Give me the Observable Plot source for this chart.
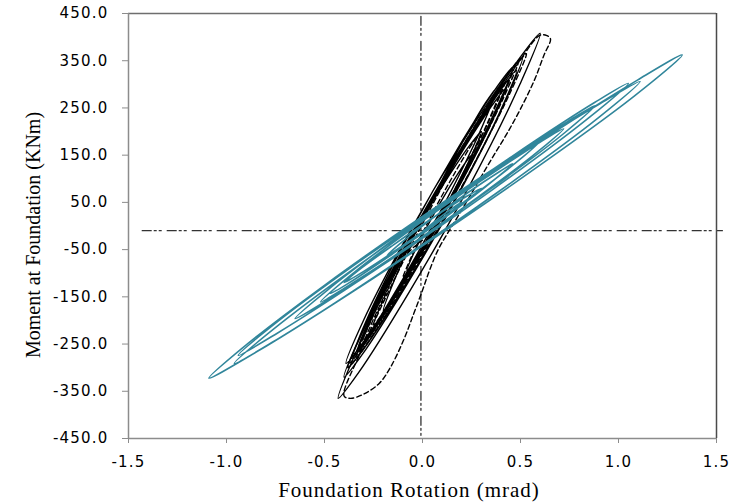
<!DOCTYPE html>
<html><head><meta charset="utf-8">
<script src="https://cdn.jsdelivr.net/npm/d3@7"></script>
<script src="https://cdn.jsdelivr.net/npm/@observablehq/plot@0.6"></script>
<style>
body{margin:0;background:#fff}
#chart{width:741px;height:504px}
g[aria-label="x-axis tick label"] text, g[aria-label="y-axis tick label"] text{letter-spacing:1.2px}
</style></head><body><div id="chart"></div>
<script>
const xTicks = [-1.5, -1.0, -0.5, 0.0, 0.5, 1.0, 1.5];
const yTicks = [-450, -350, -250, -150, -50, 50, 150, 250, 350, 450];
const xTitle = "Foundation Rotation (mrad)";
const yTitle = "Moment at Foundation (KNm)";

// reference dash-dot lines
const refHorizontal = [[-1.43, -10], [1.53, -10]];
const refVertical = [[-0.008, 444], [-0.008, -444]];

// teal series (rotation mrad, moment kNm)
const tealLoops = [
[0,-12],[0.1,22],[0.20,50],
[0.162,36],[0.067,6],[-0.047,-27],[-0.142,-53],[-0.18,-62],
[-0.116,-38],[0.044,14],[0.236,72],[0.396,116],[0.46,132],
[0.367,98],[0.135,24],[-0.145,-57],[-0.377,-121],[-0.47,-143],
[-0.351,-99],[-0.054,-6],[0.304,97],[0.601,178],[0.72,206],
[0.596,160],[0.286,62],[-0.086,-47],[-0.396,-131],[-0.52,-161],
[-0.38,-109],[-0.03,2],[0.39,125],[0.74,221],[0.88,255],
[0.727,198],[0.345,78],[-0.115,-55],[-0.497,-160],[-0.65,-196],
[-0.48,-134],[-0.055,-1],[0.455,147],[0.88,262],[1.05,302],
[0.851,230],[0.354,76],[-0.244,-94],[-0.741,-227],[-0.94,-274],
[-0.735,-201],[-0.2225,-46],[0.3925,126],[0.905,259],[1.11,306],
[0.903,231],[0.3855,72],[-0.2355,-105],[-0.753,-243],[-0.96,-291],
[-0.7315,-209],[-0.16,-34],[0.525,159],[1.0965,309],[1.325,362],
[1.0835,276],[0.48,94],[-0.245,-109],[-0.8485,-267],[-1.09,-322],
[-0.921,-259],[-0.4985,-125],[0.0085,23],[0.431,139],[0.60,180],
[0.50,142],[0.25,62],[-0.05,-27],[-0.30,-96],[-0.40,-120],
[-0.33,-95],[-0.155,-42],[0.055,18],[0.23,64],[0.30,80],
[0.2,47],[0.05,-2],[-0.05,-30]
];

// black solid series
const blackSolid = [
[0,-40],[0.06,8],[0.12,50],
[0.10,30],[0.05,-11],[-0.01,-53],[-0.06,-85],[-0.08,-95],
[-0.047,-60],[0.0355,8],[0.1345,80],[0.217,133],[0.25,150],
[0.205,103],[0.0925,12],[-0.0425,-85],[-0.155,-157],[-0.20,-180],
[-0.142,-113],[0.003,19],[0.177,157],[0.322,261],[0.38,293],
[0.307,213],[0.1245,57],[-0.0945,-108],[-0.277,-231],[-0.35,-270],
[-0.269,-184],[-0.0665,-16],[0.1765,162],[0.379,294],[0.46,336],
[0.375,247],[0.1625,73],[-0.0925,-111],[-0.305,-248],[-0.39,-291],
[-0.30,-199],[-0.075,-19],[0.195,171],[0.42,312],[0.51,357],
[0.419,261],[0.1915,73],[-0.0815,-125],[-0.309,-273],[-0.40,-320],
[-0.30,-217],[-0.05,-15],[0.25,198],[0.50,358],[0.60,408],
[0.497,300],[0.2395,85],[-0.0695,-141],[-0.327,-311],[-0.43,-365],
[-0.339,-267],[-0.1115,-74],[0.1615,130],[0.389,282],[0.48,330],
[0.394,241],[0.179,66],[-0.079,-119],[-0.294,-257],[-0.38,-300],
[-0.298,-214],[-0.093,-45],[0.153,134],[0.358,268],[0.44,310],
[0.36,226],[0.16,63],[-0.08,-110],[-0.28,-240],[-0.36,-280],
[-0.294,-212],[-0.129,-78],[0.069,63],[0.234,167],[0.30,200],
[0.24,140],[0.09,20],[-0.09,-109],[-0.24,-208],[-0.30,-240],
[-0.228,-168],[-0.048,-23],[0.168,134],[0.348,251],[0.42,290],
[0.345,215],[0.1575,64],[-0.0675,-99],[-0.255,-222],[-0.33,-262],
[-0.25,-180],[-0.1,-65],[0,-20]
];

// black dashed series
const blackDashed = [
[0,-45],[0.07,8],[0.14,60],
[0.116,37],[0.056,-10],[-0.016,-60],[-0.076,-98],[-0.10,-110],
[-0.06,-68],[0.04,18],[0.16,109],[0.26,178],[0.30,200],
[0.245,144],[0.1075,32],[-0.0575,-89],[-0.195,-180],[-0.25,-210],
[-0.183,-140],[-0.0155,1],[0.1855,153],[0.353,268],[0.42,305],
[0.345,228],[0.1575,72],[-0.0675,-96],[-0.255,-223],[-0.33,-265],
[-0.248,-181],[-0.043,-13],[0.203,168],[0.408,305],[0.49,350],
[0.404,263],[0.189,88],[-0.069,-100],[-0.284,-243],[-0.37,-290],
[-0.28,-201],[-0.055,-22],[0.215,171],[0.44,317],[0.53,365],
[0.439,275],[0.2115,92],[-0.0615,-103],[-0.289,-252],[-0.38,-300],
[-0.282,-203],[-0.037,-9],[0.257,198],[0.502,354],[0.60,404],[0.635,403],[0.653,396],
[0.62,362],[0.57,308],[0.50,248],[0.43,195],[0.36,147],[0.30,105],[0.24,62],
[0.18,20],[0.13,-14],[0.08,-50],[0.035,-95],[0,-136],[-0.045,-186],[-0.097,-242],
[-0.163,-299],[-0.22,-333],[-0.30,-356],[-0.367,-365],[-0.40,-360],
[-0.313,-265],[-0.0955,-73],[0.1655,133],[0.383,289],[0.47,340],
[0.389,256],[0.1865,86],[-0.0565,-96],[-0.259,-235],[-0.34,-280],
[-0.266,-203],[-0.081,-47],[0.141,121],[0.326,248],[0.40,290],
[0.33,217],[0.155,69],[-0.055,-90],[-0.23,-210],[-0.30,-250],
[-0.22,-170],[-0.08,-60],[0,-30]
];

const fmt = d => d.toFixed(1);
const px = d => d[0], py = d => d[1];
const dashDot = "9,3,2,3,2,6";

const plot = Plot.plot({
  width: 741, height: 504,
  marginLeft: 128, marginRight: 25, marginTop: 13, marginBottom: 66,
  style: {fontFamily: "'DejaVu Sans', sans-serif", fontSize: "15px", background: "#fff", color: "#000"},
  x: {domain: [-1.5, 1.5]},
  y: {domain: [-450, 450]},
  marks: [
    Plot.line(refVertical, {x: px, y: py, stroke: "#333", strokeWidth: 1.3, strokeDasharray: dashDot}),
    Plot.line(refHorizontal, {x: px, y: py, stroke: "#333", strokeWidth: 1.3, strokeDasharray: dashDot}),
    Plot.line(blackDashed, {x: px, y: py, curve: "catmull-rom", stroke: "#000", strokeWidth: 1.4, strokeDasharray: "5,3"}),
    Plot.line(blackSolid, {x: px, y: py, curve: "catmull-rom", stroke: "#000", strokeWidth: 1.4}),
    Plot.line(tealLoops, {x: px, y: py, curve: "catmull-rom", stroke: "#31869b", strokeWidth: 1.6}),
    Plot.ruleY([450], {stroke: "#6e6e6e", strokeWidth: 1.5}),
    Plot.ruleX([1.5], {stroke: "#4a4a4a", strokeWidth: 1.5}),
    Plot.ruleX([-1.5], {stroke: "#8c8c8c", strokeWidth: 1.5}),
    Plot.ruleY([-450], {stroke: "#8c8c8c", strokeWidth: 1.5}),
    Plot.axisX(xTicks, {tickFormat: fmt, tickSize: 5, tickPadding: 13, stroke: "#8c8c8c", fill: "#000", label: null}),
    Plot.axisY(yTicks, {tickFormat: fmt, tickSize: 6, tickPadding: 14, stroke: "#8c8c8c", fill: "#000", label: null})
  ]
});
document.getElementById("chart").appendChild(plot);

const svg = d3.select(plot);
svg.append("text")
  .attr("x", 409).attr("y", 497)
  .attr("text-anchor", "middle")
  .style("font-family", "'Liberation Serif', 'Times New Roman', serif")
  .style("font-size", "21px").style("letter-spacing", "1px").attr("fill", "#000")
  .text(xTitle);
svg.append("text")
  .attr("transform", "translate(40,235) rotate(-90)")
  .attr("text-anchor", "middle")
  .style("font-family", "'Liberation Serif', 'Times New Roman', serif")
  .style("font-size", "20px").attr("fill", "#000")
  .text(yTitle);
</script></body></html>
